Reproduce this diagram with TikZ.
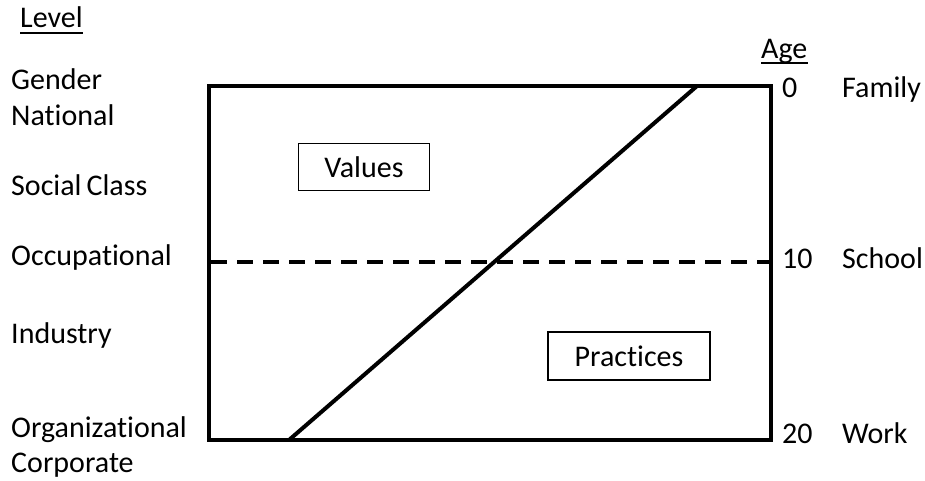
\documentclass[tikz,border=0pt]{standalone}
\usepackage{fontspec}
\setmainfont[Ligatures=NoCommon]{Carlito}
\usetikzlibrary{positioning,calc}

\begin{document}
\begin{tikzpicture}[x=1pt,y=-1pt,
  txt/.style={anchor=base west,inner sep=0pt,font=\fontsize{30}{35}\selectfont},
  box/.style={draw,line width=1.6pt,inner sep=0pt,font=\fontsize{30}{35}\selectfont},
  frame/.style={line width=4pt,line join=miter},
  uline/.style={line width=2.6pt}]
\useasboundingbox (0,0) rectangle (925,480);
% corners of the frame
\coordinate (tl) at (209,86);
\coordinate (br) at (771,440);
\coordinate (tr) at (br |- tl);
\coordinate (bl) at (tl |- br);
% draw the frame
\draw[frame] (tl) rectangle (br);
% draw dashed line at age 10
\coordinate (dl) at (211,262);
\coordinate (dr) at (771,262);
\draw[line width=3.5pt,dash pattern=on 16pt off 10pt] (dl) -- (dr);
% draw the diagonal
\coordinate (ptop) at (697,86);
\coordinate (pbot) at (289,440);
\draw[line width=4pt] (pbot) -- (ptop);
% draw boxes
\node[box,minimum width=131pt,minimum height=47pt] (values) at (364,167) {Values};
\node[box,minimum width=162pt,minimum height=48pt] (practices) at (629,356) {Practices};
% draw headings
\node[txt] (level) at (20,27) {Level};
\draw[uline] ([yshift=-6pt]level.base west) -- ([yshift=-6pt]level.base east);
\node[txt] (age) at (761,58) {Age};
\draw[uline] ([yshift=-5pt]age.base west) -- ([yshift=-5pt]age.base east);
% draw levels
\foreach \n/\y/\t in {gender/89/Gender,national/125/National,social/195/Social\,Class,
  occup/265/Occupational,industry/343/Industry,organ/437/Organizational,corp/472/Corporate}
  \node[txt] (\n) at (11,\y) {\t};
% draw ages
\foreach \n/\y/\a/\t in {family/97/0/Family,school/268/10/School,work/443/20/Work} {
  \node[txt] (age-\n) at (782,\y) {\a};
  \node[txt] (\n) at (842,\y) {\t};
}
\end{tikzpicture}
\end{document}
